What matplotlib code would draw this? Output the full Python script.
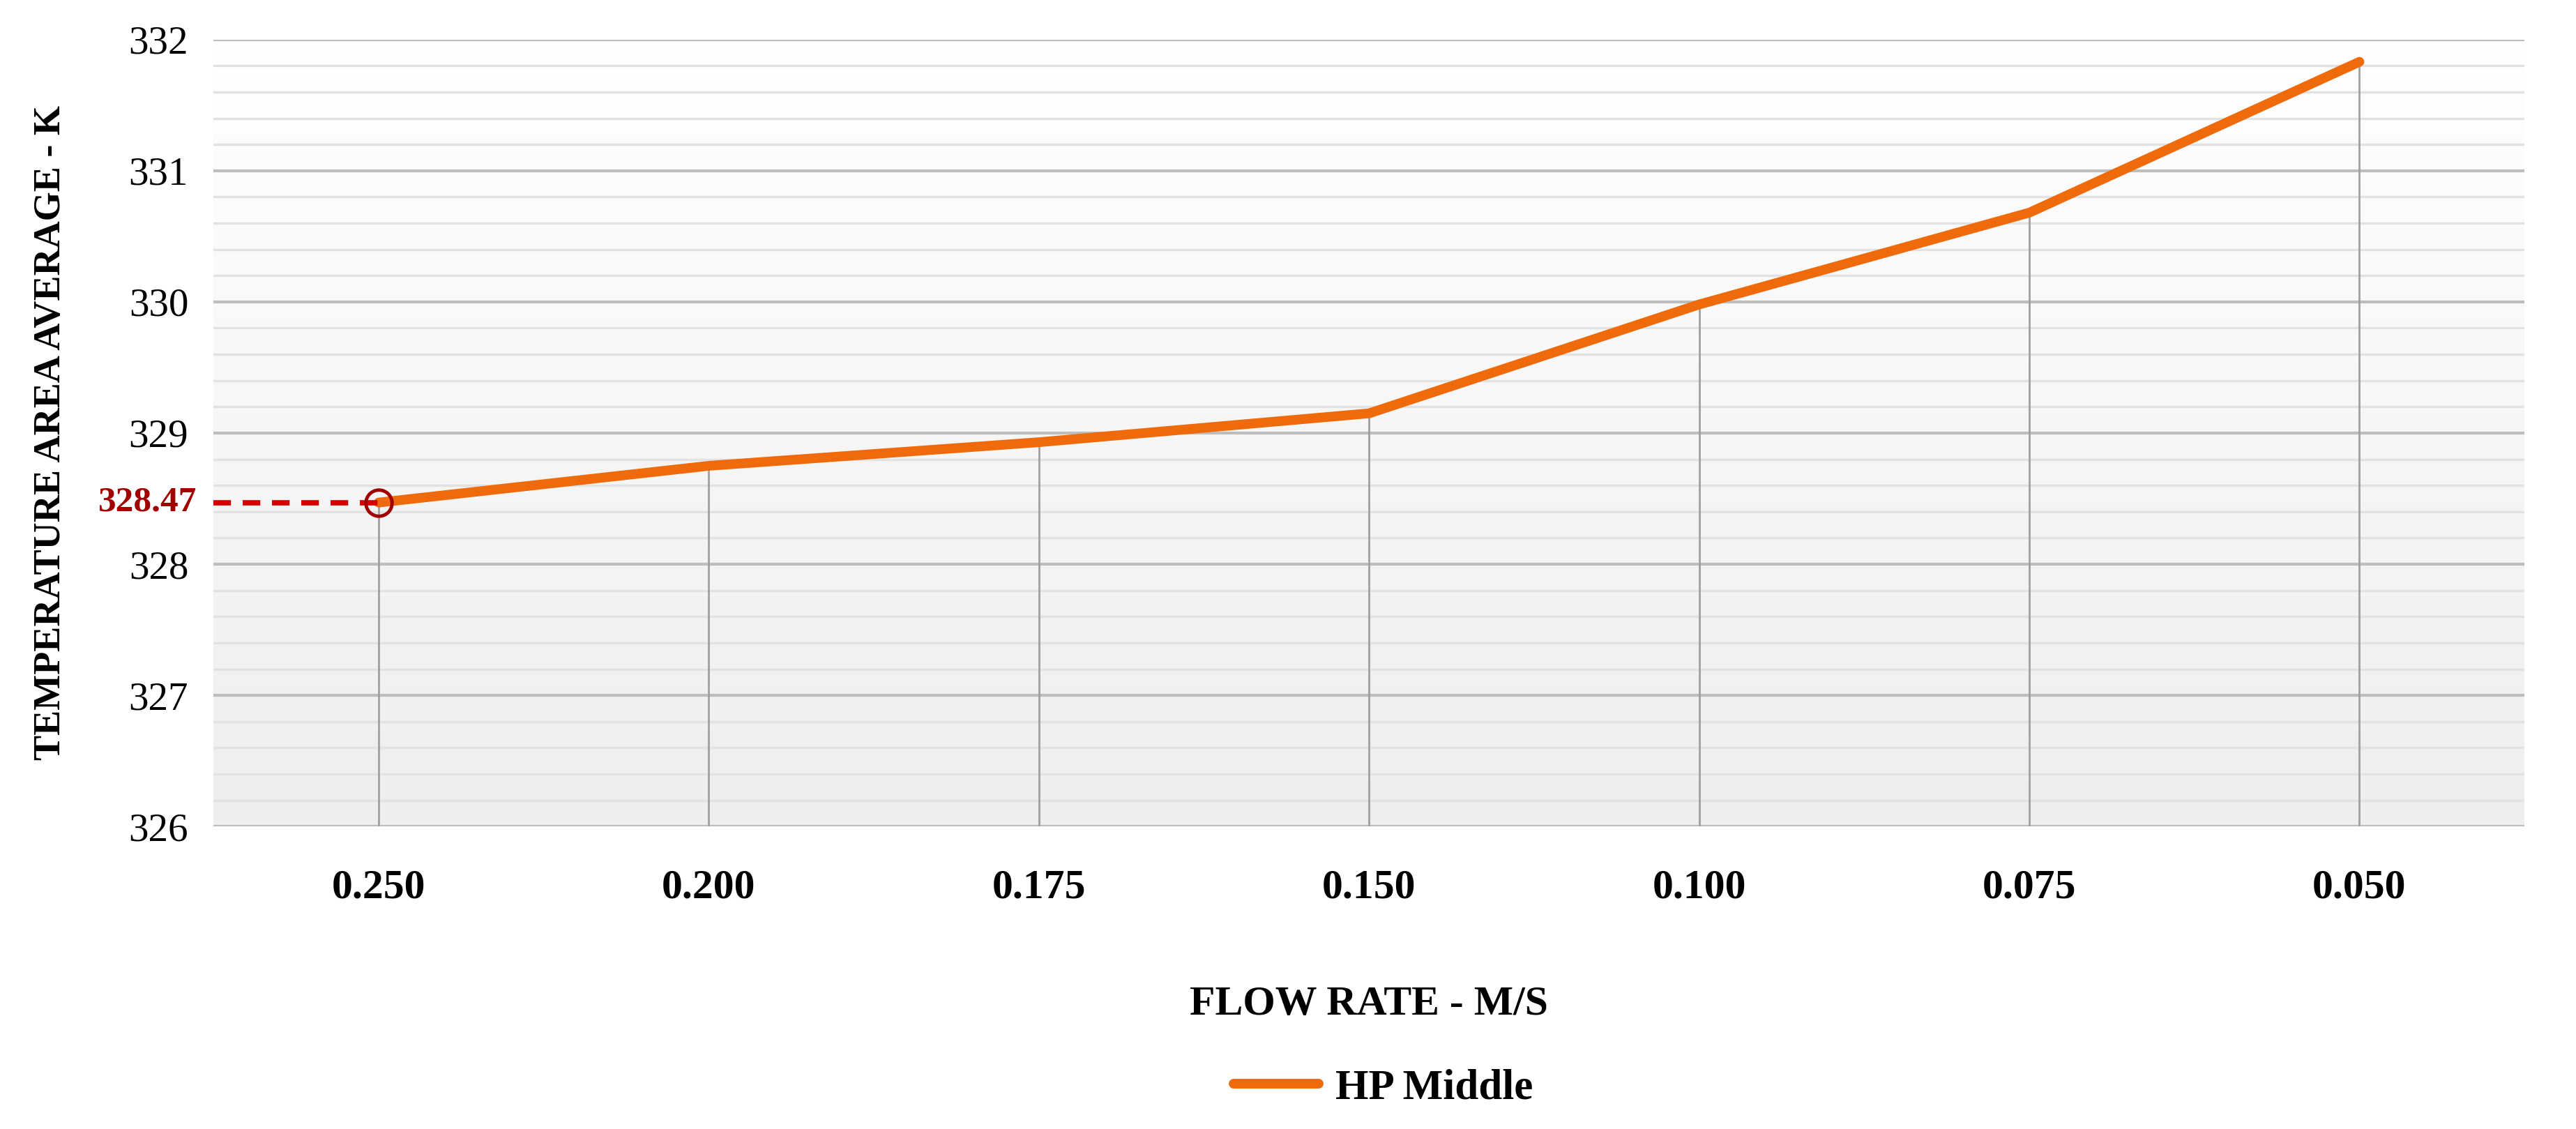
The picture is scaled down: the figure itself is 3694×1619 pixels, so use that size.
import numpy as np
import matplotlib
matplotlib.use("Agg")
import matplotlib.pyplot as plt
from matplotlib.ticker import MultipleLocator

categories = ["0.250", "0.200", "0.175", "0.150", "0.100", "0.075", "0.050"]
hp_middle = [328.47, 328.75, 328.93, 329.15, 329.98, 330.68, 331.83]
highlight_label = "328.47"

plt.rcParams['font.family'] = ['Liberation Serif', 'DejaVu Serif']

fig = plt.figure(figsize=(36.94, 16.19), dpi=100)
ax = fig.add_axes([0.0829, 0.2679, 0.8971, 0.6971])

x = np.arange(len(categories))
ax.set_xlim(-0.5, len(categories) - 0.5)
ax.set_ylim(326, 332)

# gradient background
grad = np.linspace(0, 1, 256).reshape(-1, 1)
ax.imshow(grad, extent=[-0.5, len(categories) - 0.5, 326, 332], aspect='auto',
          cmap=matplotlib.colors.LinearSegmentedColormap.from_list('g', ['#eeeeee', '#ffffff']),
          origin='lower', zorder=0)

ax.yaxis.set_major_locator(MultipleLocator(1))
ax.yaxis.set_minor_locator(MultipleLocator(0.2))
ax.grid(True, axis='y', which='major', color='#bdbdbd', lw=3, zorder=1)
ax.grid(True, axis='y', which='minor', color='#e2e2e2', lw=2.4, zorder=1)
for s in ax.spines.values():
    s.set_visible(False)
ax.tick_params(axis='both', which='both', length=0)

# drop lines
ax.vlines(x, 326, hp_middle, color='#a0a0a0', lw=2, zorder=2)

ax.plot(x, hp_middle, color='#EE6A0A', lw=10, solid_capstyle='round',
        solid_joinstyle='round', zorder=4, label='HP Middle')

# highlight
ax.plot([-0.5, x[0]], [hp_middle[0]] * 2, color='#d40000', lw=5.5, ls=(0, (3.3, 2.2)), zorder=5)
ax.plot(x[0], hp_middle[0], 'o', mfc='none', mec='#a00000', mew=3.5, ms=27, zorder=6)
ax.text(-0.55, hp_middle[0], highlight_label, color='#a00000', fontsize=37, fontweight='bold',
        ha='right', va='center')

ax.set_xticks(x)
ax.set_xticklabels(categories, fontsize=43, fontweight='bold')
ax.set_yticks(np.arange(326, 333, 1))
ax.set_yticklabels([str(v) for v in range(326, 333)], fontsize=41)
ax.tick_params(axis='x', pad=44)
ax.tick_params(axis='y', pad=26)

ax.set_xlabel('FLOW RATE - M/S', fontsize=43, fontweight='bold', labelpad=82)
ax.set_ylabel('TEMPERATURE AREA AVERAGE - K', fontsize=39, fontweight='bold', labelpad=62)

leg = fig.legend(loc='center', bbox_to_anchor=(0.537, 0.036), frameon=False,
                 prop={'size': 44, 'weight': 'bold'}, handlelength=2.0, handletextpad=0.4)

fig.savefig('out.png', dpi=100, facecolor='white')
